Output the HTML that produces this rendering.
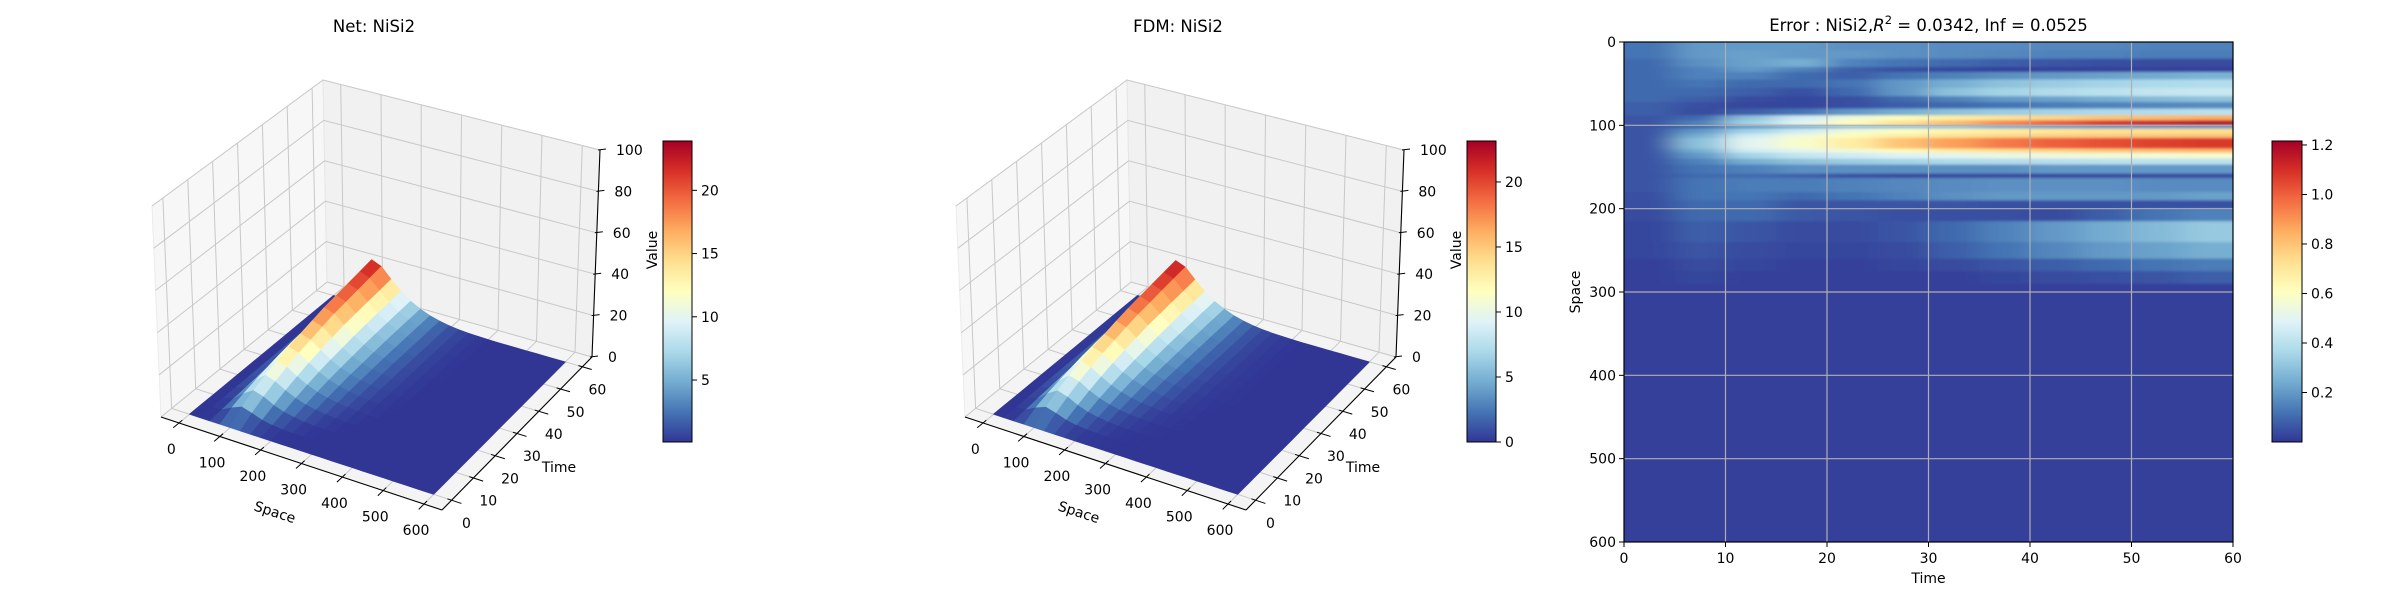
<!DOCTYPE html>
<html><head><meta charset="utf-8"><style>
html,body{margin:0;padding:0;background:#fff;}
svg{display:block;font-family:"DejaVu Sans","Liberation Sans",sans-serif;}
</style></head><body>
<svg id="fig" width="2400" height="600" viewBox="0 0 2400 600">
<defs>
<linearGradient id="cbgrad" x1="0" y1="1" x2="0" y2="0">
<stop offset="0" stop-color="#313695"/><stop offset="0.1" stop-color="#4575b4"/><stop offset="0.2" stop-color="#74add1"/><stop offset="0.3" stop-color="#abd9e9"/><stop offset="0.4" stop-color="#e0f3f8"/><stop offset="0.5" stop-color="#ffffbf"/><stop offset="0.6" stop-color="#fee090"/><stop offset="0.7" stop-color="#fdae61"/><stop offset="0.8" stop-color="#f46d43"/><stop offset="0.9" stop-color="#d73027"/><stop offset="1" stop-color="#a50026"/>
</linearGradient>
<filter id="hblur" x="0" y="0" width="1" height="1" filterUnits="objectBoundingBox">
<feGaussianBlur stdDeviation="14 1.2"/>
</filter>
<clipPath id="hclip"><rect x="1624" y="42" width="609" height="500"/></clipPath>
</defs>
</svg>
<script>
// ---------- data ----------
const spaceVals = [0,25,50,75,100,125,150,175,200,225,250,275,300,325,350,375,400,425,450,475,500,525,550,575,600];
const timeVals = [0,5,10,15,20,25,30,35,40,45,50,55,60];
const netValues = [
[0,0,0,0,0,0,0,0,0,0,0,0,0,0,0,0,0],
[0,0,0.5,3,5,3.5,1.8,0.9,0.4,0.2,0.1,0,0,0,0,0,0],
[0,0,1,5,8,6.5,4,2.3,1.3,0.7,0.35,0.15,0.05,0,0,0,0],
[0,0.05,1.5,6.5,10.5,9,6.2,4,2.5,1.5,0.85,0.45,0.2,0.1,0,0,0],
[0,0.1,2,7.8,12.5,11,8,5.5,3.6,2.3,1.4,0.8,0.45,0.2,0.1,0,0],
[0,0.1,2.4,9,14.5,13,9.7,6.8,4.6,3,1.9,1.15,0.65,0.35,0.15,0.05,0],
[0,0.15,2.7,10,16,14.4,11,7.8,5.3,3.6,2.3,1.4,0.85,0.45,0.25,0.1,0.05],
[0,0.2,3,10.8,17.5,15.9,12.2,8.6,6,4,2.6,1.65,1,0.55,0.3,0.15,0.05],
[0,0.2,3.3,11.7,19,17.3,13.3,9.4,6.6,4.4,2.9,1.85,1.1,0.62,0.35,0.18,0.07],
[0,0.25,3.5,12.3,20,18.2,14,10,7,4.8,3.1,2,1.2,0.7,0.38,0.2,0.08],
[0,0.25,3.7,12.9,21,19.2,14.7,10.6,7.4,5.1,3.3,2.1,1.28,0.74,0.4,0.22,0.09],
[0,0.3,3.8,13.5,22,20.1,15.3,11,7.7,5.3,3.45,2.2,1.34,0.77,0.43,0.24,0.1],
[0,0.3,4,14,23,21,16,11.5,8,5.5,3.6,2.3,1.4,0.8,0.45,0.25,0.1]
];
const fdmValues = [
[0,0,0,0,0,0,0,0,0,0,0,0,0,0,0,0,0],
[0,0,0.5,3,4.9,3.5,1.8,0.9,0.4,0.2,0.1,0,0,0,0,0,0],
[0,0,1,5,7.9,6.4,4,2.3,1.3,0.7,0.35,0.15,0.05,0,0,0,0],
[0,0.05,1.5,6.4,10.3,8.9,6.1,4,2.5,1.5,0.85,0.45,0.2,0.1,0,0,0],
[0,0.1,2,7.7,12.3,10.9,7.9,5.4,3.6,2.3,1.4,0.8,0.45,0.2,0.1,0,0],
[0,0.1,2.4,8.9,14.2,12.8,9.6,6.7,4.6,3,1.9,1.15,0.65,0.35,0.15,0.05,0],
[0,0.15,2.7,9.8,15.7,14.2,10.9,7.7,5.3,3.6,2.3,1.4,0.85,0.45,0.25,0.1,0.05],
[0,0.2,3,10.6,17.2,15.7,12,8.5,6,4,2.6,1.65,1,0.55,0.3,0.15,0.05],
[0,0.2,3.3,11.5,18.6,17,13.1,9.3,6.5,4.4,2.9,1.85,1.1,0.62,0.35,0.18,0.07],
[0,0.25,3.5,12.1,19.6,17.9,13.8,9.9,6.9,4.8,3.1,2,1.2,0.7,0.38,0.2,0.08],
[0,0.25,3.7,12.7,20.6,18.9,14.5,10.5,7.3,5.1,3.3,2.1,1.28,0.74,0.4,0.22,0.09],
[0,0.3,3.8,13.2,21.6,19.8,15.1,10.9,7.6,5.3,3.45,2.2,1.34,0.77,0.43,0.24,0.1],
[0,0.3,4,13.7,22.6,20.7,15.8,11.4,7.9,5.5,3.6,2.3,1.4,0.8,0.45,0.25,0.1]
];
const spaceTicks = [0,100,200,300,400,500,600];
const timeTicks = [0,10,20,30,40,50,60];
const zTicks = [0,20,40,60,80,100];
const netCbTicks = [5,10,15,20];
const fdmCbTicks = [0,5,10,15,20];
const errCbTicks = [0.2,0.4,0.6,0.8,1.0,1.2];
const errTimeCols = [0,5,10,15,20,25,30,35,40,45,50,55,60];
const errSpaceEdges = [0,10,20,30,36,45,55,65,72,80,88,94,100,104,110,115,128,133,140,147,158,163,180,190,200,215,240,260,275,290,600];
const errValues = [
[.12,.2,.2,.2,.18,.18,.17,.17,.16,.16,.15,.15],
[.12,.2,.22,.2,.2,.18,.17,.16,.15,.15,.14,.14],
[.1,.18,.22,.25,.15,.12,.1,.08,.06,.05,.04,.04],
[.1,.15,.2,.15,.08,.05,.03,.02,.02,.02,.02,.02],
[.1,.15,.15,.1,.08,.12,.15,.18,.2,.22,.24,.26],
[.1,.12,.1,.1,.12,.2,.25,.3,.33,.35,.37,.38],
[.1,.1,.08,.05,.1,.2,.3,.35,.38,.4,.42,.43],
[.1,.08,.04,.03,.05,.1,.15,.2,.22,.25,.28,.3],
[.08,.05,.03,.03,.05,.08,.1,.12,.14,.15,.16,.17],
[.08,.04,.08,.12,.2,.25,.3,.33,.35,.37,.38,.4],
[.06,.1,.3,.45,.55,.62,.68,.72,.76,.8,.82,.85],
[.06,.15,.35,.5,.62,.72,.82,.92,1.0,1.08,1.12,1.17],
[.06,.1,.2,.25,.3,.3,.3,.25,.22,.2,.2,.2],
[.06,.2,.35,.45,.55,.6,.65,.68,.7,.72,.72,.73],
[.06,.25,.45,.55,.62,.68,.72,.75,.77,.78,.79,.8],
[.06,.3,.5,.58,.68,.8,.88,.95,1.0,1.03,1.06,1.08],
[.06,.25,.45,.5,.55,.62,.68,.72,.75,.78,.8,.82],
[.06,.2,.35,.42,.45,.48,.5,.52,.54,.55,.56,.57],
[.06,.15,.25,.3,.33,.35,.37,.38,.39,.4,.4,.4],
[.06,.12,.15,.18,.18,.18,.18,.18,.2,.2,.2,.2],
[.06,.1,.1,.08,.05,.03,.03,.03,.03,.03,.03,.03],
[.06,.12,.14,.14,.15,.16,.17,.18,.18,.18,.17,.17],
[.05,.12,.12,.1,.12,.15,.18,.2,.2,.2,.2,.22],
[.05,.1,.1,.06,.06,.06,.06,.05,.05,.05,.05,.05],
[.04,.1,.1,.07,.06,.05,.05,.05,.04,.08,.12,.15],
[.03,.08,.06,.04,.04,.06,.1,.15,.2,.24,.28,.32],
[.03,.06,.04,.03,.03,.04,.08,.12,.16,.2,.22,.25],
[.02,.04,.03,.02,.02,.03,.04,.06,.08,.1,.12,.14],
[.02,.03,.02,.02,.02,.02,.02,.03,.04,.05,.06,.08],
[.02,.02,.02,.02,.02,.02,.02,.02,.02,.02,.02,.02]
];

// ---------- helpers ----------
const NS = 'http://www.w3.org/2000/svg';
const svg = document.getElementById('fig');
function mk(tag, attrs, parent, text){
  const e = document.createElementNS(NS, tag);
  for (const k in attrs) e.setAttribute(k, attrs[k]);
  if (text !== undefined) e.textContent = text;
  (parent || svg).appendChild(e);
  return e;
}
const STOPS = [[49,54,149],[69,117,180],[116,173,209],[171,217,233],[224,243,248],[255,255,191],[254,224,144],[253,174,97],[244,109,67],[215,48,39],[165,0,38]];
function cmap(x){
  x = Math.max(0, Math.min(1, x)) * 10;
  const i = Math.min(9, Math.floor(x)), f = x - i;
  const a = STOPS[i], b = STOPS[i+1];
  return 'rgb(' + [0,1,2].map(k => Math.round(a[k] + (b[k]-a[k])*f)).join(',') + ')';
}
function valAt(tbl, ti, si){ const r = tbl[ti]; return si < r.length ? r[si] : 0; }

// ---------- 3D panel ----------
const Lb=[161,417], Fb=[442,510], Rb=[592,357], Bb=[327,282];
const Lt=[152,206], Ft=[445,294], Rt=[600,150], Bt=[323,80];
function bil(P00,P10,P11,P01,u,v){
  return [0,1].map(k => P00[k]*(1-u)*(1-v) + P10[k]*u*(1-v) + P11[k]*u*v + P01[k]*(1-u)*v);
}
function projUVW(u,v,w,ox){
  const b = bil(Lb,Fb,Rb,Bb,u,v), t = bil(Lt,Ft,Rt,Bt,u,v);
  return [b[0]*(1-w) + t[0]*w + ox, b[1]*(1-w) + t[1]*w];
}
function uOf(s){ return 0.064 + 0.872*s/600; }
function vOf(t){ return 0.064 + 0.872*t/60; }
function proj(s,t,z,ox){ return projUVW(uOf(s), vOf(t), z/100, ox); }
function pts(arr){ return arr.map(p => p[0].toFixed(1)+','+p[1].toFixed(1)).join(' '); }

function drawPanel(ox, tbl, vmin, vmax, cbTicks, title, key){
  const g = mk('g', {}, svg);
  
  
  const P = (u,v,w) => projUVW(u,v,w,ox);
  const pl = mk('polygon', {points: pts([P(0,0,0),P(0,1,0),P(0,1,1),P(0,0,1)]), fill:'#f7f7f7', stroke:'#ebebeb'}, g);
   
  const pb = mk('polygon', {points: pts([P(0,1,0),P(1,1,0),P(1,1,1),P(0,1,1)]), fill:'#f1f1f1', stroke:'#e6e6e6'}, g);
   
  const pf = mk('polygon', {points: pts([P(0,0,0),P(1,0,0),P(1,1,0),P(0,1,0)]), fill:'#f4f4f4', stroke:'#e8e8e8'}, g);
   
  const gs = {stroke:'#c8c8c8', 'stroke-width':1, fill:'none'};
  timeTicks.forEach(t => {
    const v = vOf(t);
    const a = mk('polyline', Object.assign({points: pts([P(0,v,1),P(0,v,0),P(1,v,0)])}, gs), g);
     
  });
  spaceTicks.forEach(s => {
    const u = uOf(s);
    const a = mk('polyline', Object.assign({points: pts([P(u,0,0),P(u,1,0),P(u,1,1)])}, gs), g);
     
  });
  zTicks.forEach(z => {
    const w = z/100;
    const a = mk('polyline', Object.assign({points: pts([P(0,0,w),P(0,1,w),P(1,1,w)])}, gs), g);
     
  });
  const quads = [];
  for (let ti = 0; ti < timeVals.length-1; ti++){
    for (let si = 0; si < spaceVals.length-1; si++){
      const s0 = spaceVals[si], s1 = spaceVals[si+1], t0 = timeVals[ti], t1 = timeVals[ti+1];
      const z00 = valAt(tbl,ti,si), z10 = valAt(tbl,ti,si+1), z11 = valAt(tbl,ti+1,si+1), z01 = valAt(tbl,ti+1,si);
      const avg = (z00+z10+z11+z01)/4;
      const depth = (uOf((s0+s1)/2) - vOf((t0+t1)/2));
      quads.push({depth, avg, p:[proj(s0,t0,z00,ox),proj(s1,t0,z10,ox),proj(s1,t1,z11,ox),proj(s0,t1,z01,ox)]});
    }
  }
  quads.sort((a,b) => a.depth - b.depth);
  const sg = mk('g', {}, g);
   
  quads.forEach(q => {
    const c = cmap((q.avg - vmin)/(vmax - vmin));
    const e = mk('polygon', {points: pts(q.p), fill:c, stroke:c, 'stroke-width':0.7, 'stroke-linejoin':'round'}, sg);
    
    
  });
  const ax = {stroke:'#000', 'stroke-width':1.1, fill:'none'};
  const xa = mk('line', Object.assign({x1:P(0,0,0)[0], y1:P(0,0,0)[1], x2:P(1,0,0)[0], y2:P(1,0,0)[1]}, ax), g);
   
  const ya = mk('line', Object.assign({x1:P(1,0,0)[0], y1:P(1,0,0)[1], x2:P(1,1,0)[0], y2:P(1,1,0)[1]}, ax), g);
   
  const za = mk('line', Object.assign({x1:P(1,1,0)[0], y1:P(1,1,0)[1], x2:P(1,1,1)[0], y2:P(1,1,1)[1]}, ax), g);
   
  spaceTicks.forEach(s => {
    const u = uOf(s), a = P(u,0.02,0), b = P(u,-0.035,0);
    mk('line', {x1:a[0], y1:a[1], x2:b[0], y2:b[1], stroke:'#000', 'stroke-width':1}, g);
    const t = mk('text', {x:a[0]-11, y:a[1]+34, 'font-size':14, 'text-anchor':'middle', fill:'#000'}, g, String(s));
     
  });
  timeTicks.forEach(tt => {
    const v = vOf(tt), a = P(0.985,v,0), b = P(1.035,v,0);
    mk('line', {x1:a[0], y1:a[1], x2:b[0], y2:b[1], stroke:'#000', 'stroke-width':1}, g);
    const t = mk('text', {x:a[0]+19, y:a[1]+29, 'font-size':14, 'text-anchor':'middle', fill:'#000'}, g, String(tt));
     
  });
  zTicks.forEach(z => {
    const a = P(1,1,z/100);
    mk('line', {x1:a[0]-2, y1:a[1], x2:a[0]+6, y2:a[1]-1, stroke:'#000', 'stroke-width':1}, g);
    const t = mk('text', {x:a[0]+16, y:a[1]+5, 'font-size':14, 'text-anchor':'start', fill:'#000'}, g, String(z));
     
  });
  const sl = mk('text', {x:275+ox, y:517, 'font-size':14, 'text-anchor':'middle', transform:'rotate(18 '+(275+ox)+' 512)'}, g, 'Space');
   
  const tl = mk('text', {x:559+ox, y:472, 'font-size':14, 'text-anchor':'middle'}, g, 'Time');
   
  const ti = mk('text', {x:374+ox, y:32, 'font-size':16.5, 'text-anchor':'middle'}, g, title);
   
  const cx = 663+ox, cy0 = 141, cy1 = 442;
  const cb = mk('rect', {x:cx, y:cy0, width:29, height:cy1-cy0, fill:'url(#cbgrad)', stroke:'#000', 'stroke-width':1}, g);
   
  cbTicks.forEach(v => {
    const y = cy1 - (v - vmin)/(vmax - vmin)*(cy1-cy0);
    mk('line', {x1:cx+29, y1:y, x2:cx+34, y2:y, stroke:'#000', 'stroke-width':1}, g);
    const t = mk('text', {x:cx+38, y:y+5, 'font-size':14}, g, String(v));
     
  });
  const vl = mk('text', {x:0, y:0, 'font-size':14, 'text-anchor':'middle', transform:'translate('+(657+ox)+',250) rotate(-90)'}, g, 'Value');
   
}
drawPanel(0, netValues, 0.1, 23.9, netCbTicks, 'Net: NiSi2', 'net');
drawPanel(804, fdmValues, 0, 23.15, fdmCbTicks, 'FDM: NiSi2', 'fdm');

// ---------- heatmap ----------
(function(){
  const X0=1624, X1=2233, Y0=42, Y1=542, vmin=0, vmax=1.216, EXT=60;
  const xs = t => X0 + t/60*(X1-X0), ys = s => Y0 + s/600*(Y1-Y0);
  const g = mk('g', {}, svg);
   
  const cg = mk('g', {'clip-path':'url(#hclip)'}, g);
  const cells = mk('g', {filter:'url(#hblur)'}, cg);
   
  const last = errTimeCols.length - 2;
  errValues.forEach((row, ri) => {
    row.forEach((val, ci) => {
      let x = xs(errTimeCols[ci]), w = xs(errTimeCols[ci+1]) - x;
      if (ci === 0){ x -= EXT; w += EXT; }
      if (ci === last){ w += EXT; }
      const y = ys(errSpaceEdges[ri]) - (ri === 0 ? EXT : 0);
      const h = ys(errSpaceEdges[ri+1]) - y + (ri === errValues.length-1 ? EXT : 0);
      const c = cmap((val - vmin)/(vmax - vmin));
      const r = mk('rect', {x:x, y:y, width:w+0.5, height:h+0.5, fill:c}, cells);
      
      
    });
  });
  spaceTicks.forEach(s => {
    const y = ys(s);
    if (s>0 && s<600){ const l = mk('line', {x1:X0, y1:y, x2:X1, y2:y, stroke:'#b0b0b0', 'stroke-width':1.2}, g);   }
    mk('line', {x1:X0-5, y1:y, x2:X0, y2:y, stroke:'#000', 'stroke-width':1}, g);
    const t = mk('text', {x:X0-8, y:y+5, 'font-size':14, 'text-anchor':'end'}, g, String(s));
     
  });
  timeTicks.forEach(tt => {
    const x = xs(tt);
    if (tt>0 && tt<60){ const l = mk('line', {x1:x, y1:Y0, x2:x, y2:Y1, stroke:'#b0b0b0', 'stroke-width':1.2}, g);   }
    mk('line', {x1:x, y1:Y1, x2:x, y2:Y1+5, stroke:'#000', 'stroke-width':1}, g);
    const t = mk('text', {x:x, y:Y1+21, 'font-size':14, 'text-anchor':'middle'}, g, String(tt));
     
  });
  const fr = mk('rect', {x:X0, y:Y0, width:X1-X0, height:Y1-Y0, fill:'none', stroke:'#000', 'stroke-width':1.2}, g);
   
  const xl = mk('text', {x:(X0+X1)/2, y:583, 'font-size':14, 'text-anchor':'middle'}, g, 'Time');
   
  const yl = mk('text', {x:0, y:0, 'font-size':14, 'text-anchor':'middle', transform:'translate(1580,292) rotate(-90)'}, g, 'Space');
   
  const ti = mk('text', {x:(X0+X1)/2, y:31, 'font-size':16.5, 'text-anchor':'middle'}, g);
   
  mk('tspan', {}, ti, 'Error : NiSi2,');
  mk('tspan', {'font-style':'italic'}, ti, 'R');
  mk('tspan', {dy:-7, 'font-size':11.5}, ti, '2');
  mk('tspan', {dy:7}, ti, ' = 0.0342, Inf = 0.0525');
  const cx=2272, cy0=141, cy1=442;
  const cb = mk('rect', {x:cx, y:cy0, width:30, height:cy1-cy0, fill:'url(#cbgrad)', stroke:'#000', 'stroke-width':1}, g);
   
  errCbTicks.forEach(v => {
    const y = cy1 - (v - vmin)/(vmax - vmin)*(cy1-cy0);
    mk('line', {x1:cx+30, y1:y, x2:cx+35, y2:y, stroke:'#000', 'stroke-width':1}, g);
    const t = mk('text', {x:cx+39, y:y+5, 'font-size':14}, g, v.toFixed(1));
     
  });
})();
</script>
</body></html>
